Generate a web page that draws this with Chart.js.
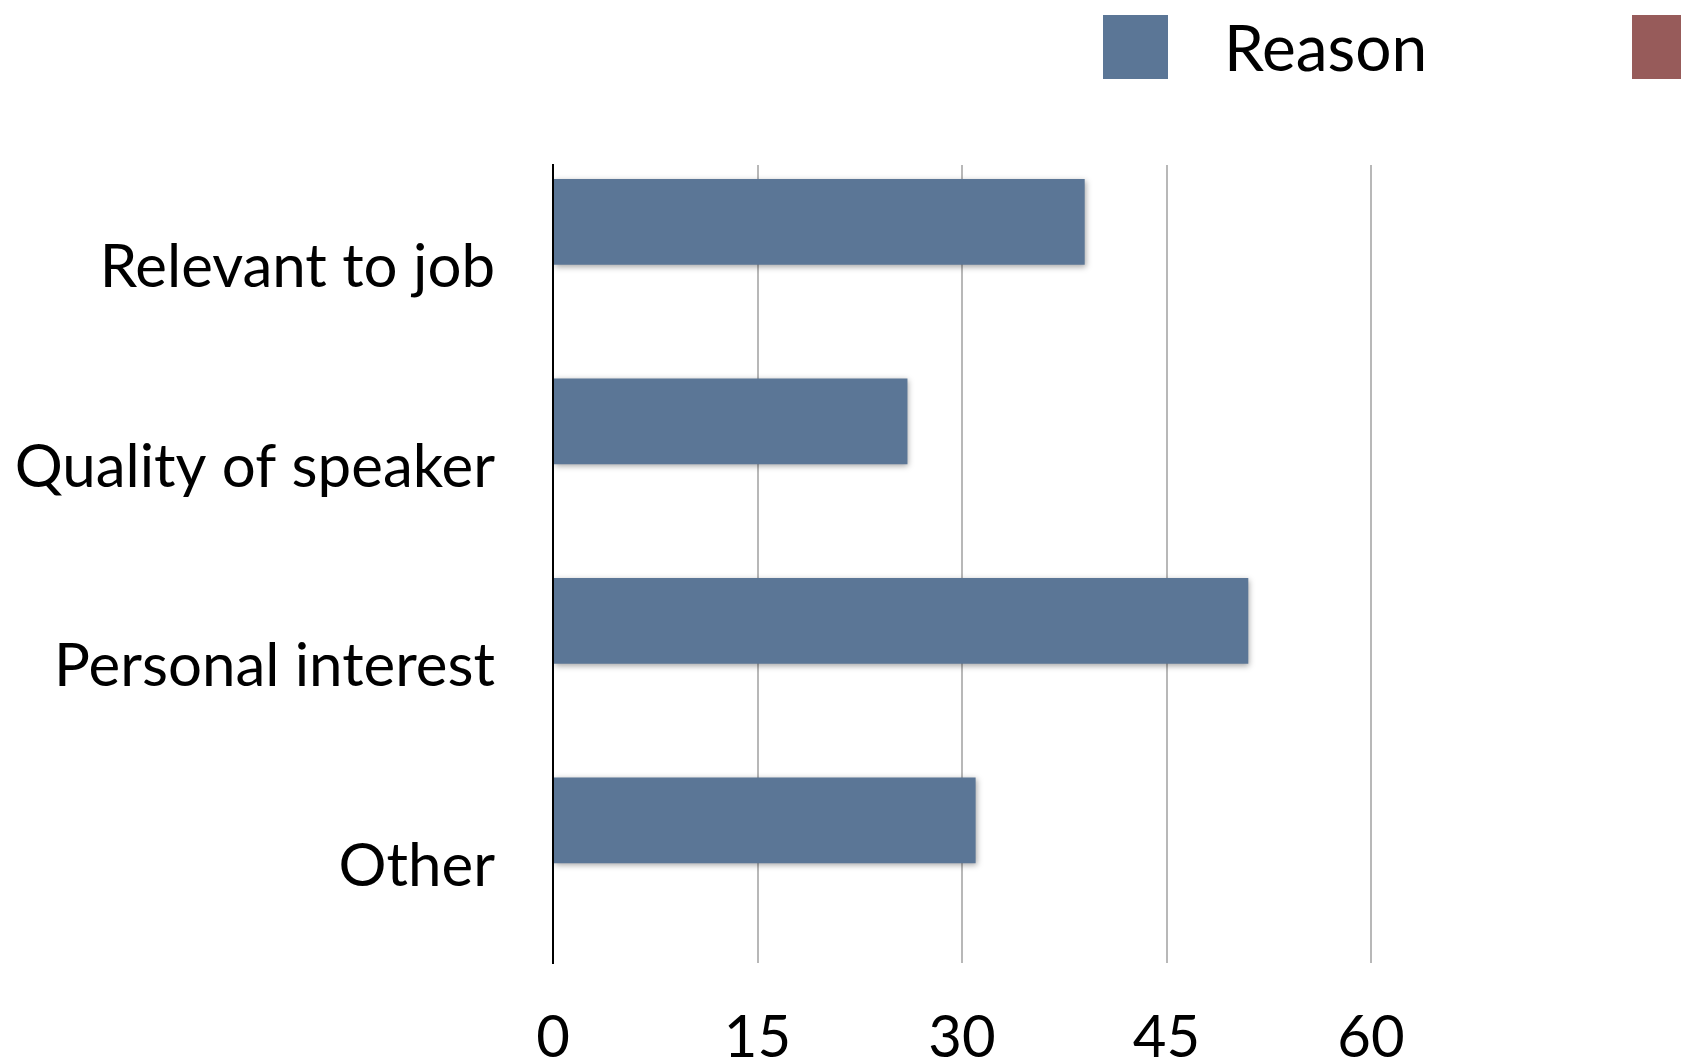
<!DOCTYPE html>
<html>
<head>
<meta charset="utf-8">
<script src="https://cdn.jsdelivr.net/npm/chart.js@4"></script>
<style>
    html, body { margin: 0; padding: 0; background: #fff; overflow: hidden; }
    #wrap { position: relative; width: 1681px; height: 1060px; }
    #canvas { position: absolute; left: 0; top: 0; }
    .legend { position: absolute; top: 0; left: 0; width: 1681px; height: 100px; overflow: hidden; font-family: Lato, "Open Sans", sans-serif; }
    .legend-item { position: absolute; top: 15px; display: flex; align-items: center; white-space: nowrap; }
    .legend-box { width: 65px; height: 64px; }
    .legend-text { margin-left: 56px; font-size: 64px; color: #000; line-height: 64px; }
</style>
</head>
<body>
<div id="wrap">
    <canvas id="canvas" width="1681" height="1060"></canvas>
    <div class="legend" id="legend"></div>
</div>
<script>
// Dữ liệu ..................
const categories = ["Relevant to job", "Quality of speaker", "Personal interest", "Other"];
const reasonValues = [39, 26, 51, 31];
const secondValues = [null, null, null, null];
const seriesNames = ["Reason", "Series 2"];
const tickValues = [0, 15, 30, 45, 60];

const colors = ["#5b7696", "#975b5a"];
const font = "Lato, 'Open Sans', sans-serif";

// Bóng đổ cho các thanh ...........
const barShadow = {
    id: "barShadow",
    beforeDatasetsDraw(chart) {
        const ctx = chart.ctx;
        ctx.save();
        ctx.shadowColor = "rgba(0,0,0,0.35)";
        ctx.shadowBlur = 6;
        ctx.shadowOffsetX = 1;
        ctx.shadowOffsetY = 2;
    },
    afterDatasetsDraw(chart) {
        chart.ctx.restore();
    },
};

function drawChart() {
    const source = {
        labels: categories,
        datasets: [
            {
                label: seriesNames[0],
                backgroundColor: colors[0],
                data: reasonValues,
                categoryPercentage: 0.86,
                barPercentage: 1.0,
            },
            {
                label: seriesNames[1],
                backgroundColor: colors[1],
                data: secondValues,
                categoryPercentage: 0.86,
                barPercentage: 1.0,
            },
        ],
    };
    const config = {
        type: "bar",
        data: source,
        options: {
            indexAxis: "y",
            responsive: false,
            animation: false,
            layout: { padding: { top: 165, right: 310, bottom: 0, left: 0 } },
            plugins: {
                legend: { display: false },
                tooltip: { enabled: false },
            },
            scales: {
                x: {
                    min: 0,
                    max: 60,
                    afterBuildTicks: (scale) => {
                        scale.ticks = tickValues.map((v) => ({ value: v }));
                    },
                    afterFit: (scale) => {
                        scale.height = 97;
                    },
                    grid: { color: "#b8b8b8", lineWidth: 2, drawTicks: false },
                    border: { display: false },
                    ticks: {
                        color: "#000",
                        padding: 40,
                        font: { family: font, size: 58 },
                    },
                },
                y: {
                    afterFit: (scale) => {
                        scale.width = 553;
                    },
                    grid: { display: false, drawTicks: false },
                    border: { display: true, color: "#000", width: 2 },
                    ticks: {
                        color: "#000",
                        padding: 58,
                        labelOffset: 3,
                        font: { family: font, size: 60 },
                    },
                },
            },
        },
        plugins: [barShadow],
    };
    const canvas = document.getElementById("canvas").getContext("2d");
    const chart = new Chart(canvas, config);
}

// Chú thích ...........
function drawLegend() {
    const lefts = [1103, 1632];
    let html = "";
    for (let i = 0; i < seriesNames.length; i++) {
        html += `
        <div class="legend-item" style="left:${lefts[i]}px">
            <div class="legend-box" style="background:${colors[i]}"></div>
            <span class="legend-text">${seriesNames[i]}</span>
        </div>`;
    }
    document.getElementById("legend").innerHTML = html;
}

drawChart();
drawLegend();
</script>
</body>
</html>
